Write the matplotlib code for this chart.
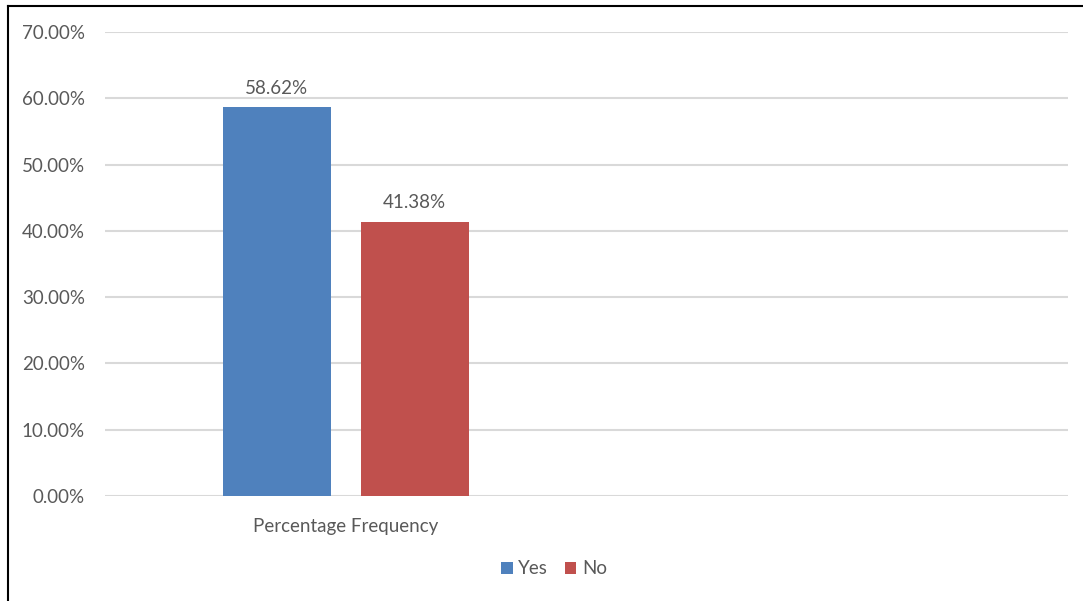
import matplotlib
matplotlib.use("Agg")
import matplotlib.pyplot as plt
from matplotlib.lines import Line2D
from matplotlib.patches import Patch

categories = ["Percentage Frequency", ""]
series_names = ["Yes", "No"]
yes_values = [0.5862, None]
no_values = [0.4138, None]
yticks = [0.0, 0.1, 0.2, 0.3, 0.4, 0.5, 0.6, 0.7]

colors = {"Yes": "#4F81BD", "No": "#C0504D"}
text_color = "#595959"
font = "Lato"
fs = 13.5

W, H = 1083, 601
fig = plt.figure(figsize=(W / 100, H / 100), dpi=100)
ax = fig.add_axes([105 / W, 1 - 496 / H, (1068 - 105) / W, (496 - 32) / H])

bw = 0.224
off = 0.143
for i, (y, n) in enumerate(zip(yes_values, no_values)):
    if y is not None:
        ax.bar(i - off, y, width=bw, color=colors["Yes"], zorder=3)
        ax.text(i - off, y + 0.016, f"{y*100:.2f}%", ha="center", va="bottom",
                fontsize=fs, color=text_color, family=font)
    if n is not None:
        ax.bar(i + off, n, width=bw, color=colors["No"], zorder=3)
        ax.text(i + off, n + 0.016, f"{n*100:.2f}%", ha="center", va="bottom",
                fontsize=fs, color=text_color, family=font)

ax.set_xlim(-0.5, len(categories) - 0.5)
ax.set_ylim(0, 0.70)
ax.set_yticks(yticks)
ax.set_yticklabels([f"{t*100:.2f}%" for t in yticks], family=font, fontsize=fs, color=text_color)
ax.set_xticks(range(len(categories)))
ax.set_xticklabels(categories, family=font, fontsize=fs, color=text_color)
ax.tick_params(axis="both", length=0)
ax.tick_params(axis="y", pad=14.5)
ax.tick_params(axis="x", pad=16)
ax.grid(axis="y", color="#D9D9D9", linewidth=1.5, zorder=0)
for s in ax.spines.values():
    s.set_visible(False)

handles = [Patch(facecolor=colors[n], edgecolor="none", label=n) for n in series_names]
fig.legend(handles=handles, loc="center", bbox_to_anchor=(554 / W, 1 - 569 / H), ncol=2,
           frameon=False, prop={"family": font, "size": fs}, labelcolor=text_color,
           handlelength=0.6, handleheight=0.6, handletextpad=0.3, columnspacing=0.9)

# outer frame (top and left edges)
fig.add_artist(Line2D([8 / W, 1], [1 - 6 / H, 1 - 6 / H], color="black", linewidth=1.5, transform=fig.transFigure))
fig.add_artist(Line2D([8 / W, 8 / W], [0, 1 - 6 / H], color="black", linewidth=1.5, transform=fig.transFigure))

fig.savefig("out.png", dpi=100, facecolor="white")
